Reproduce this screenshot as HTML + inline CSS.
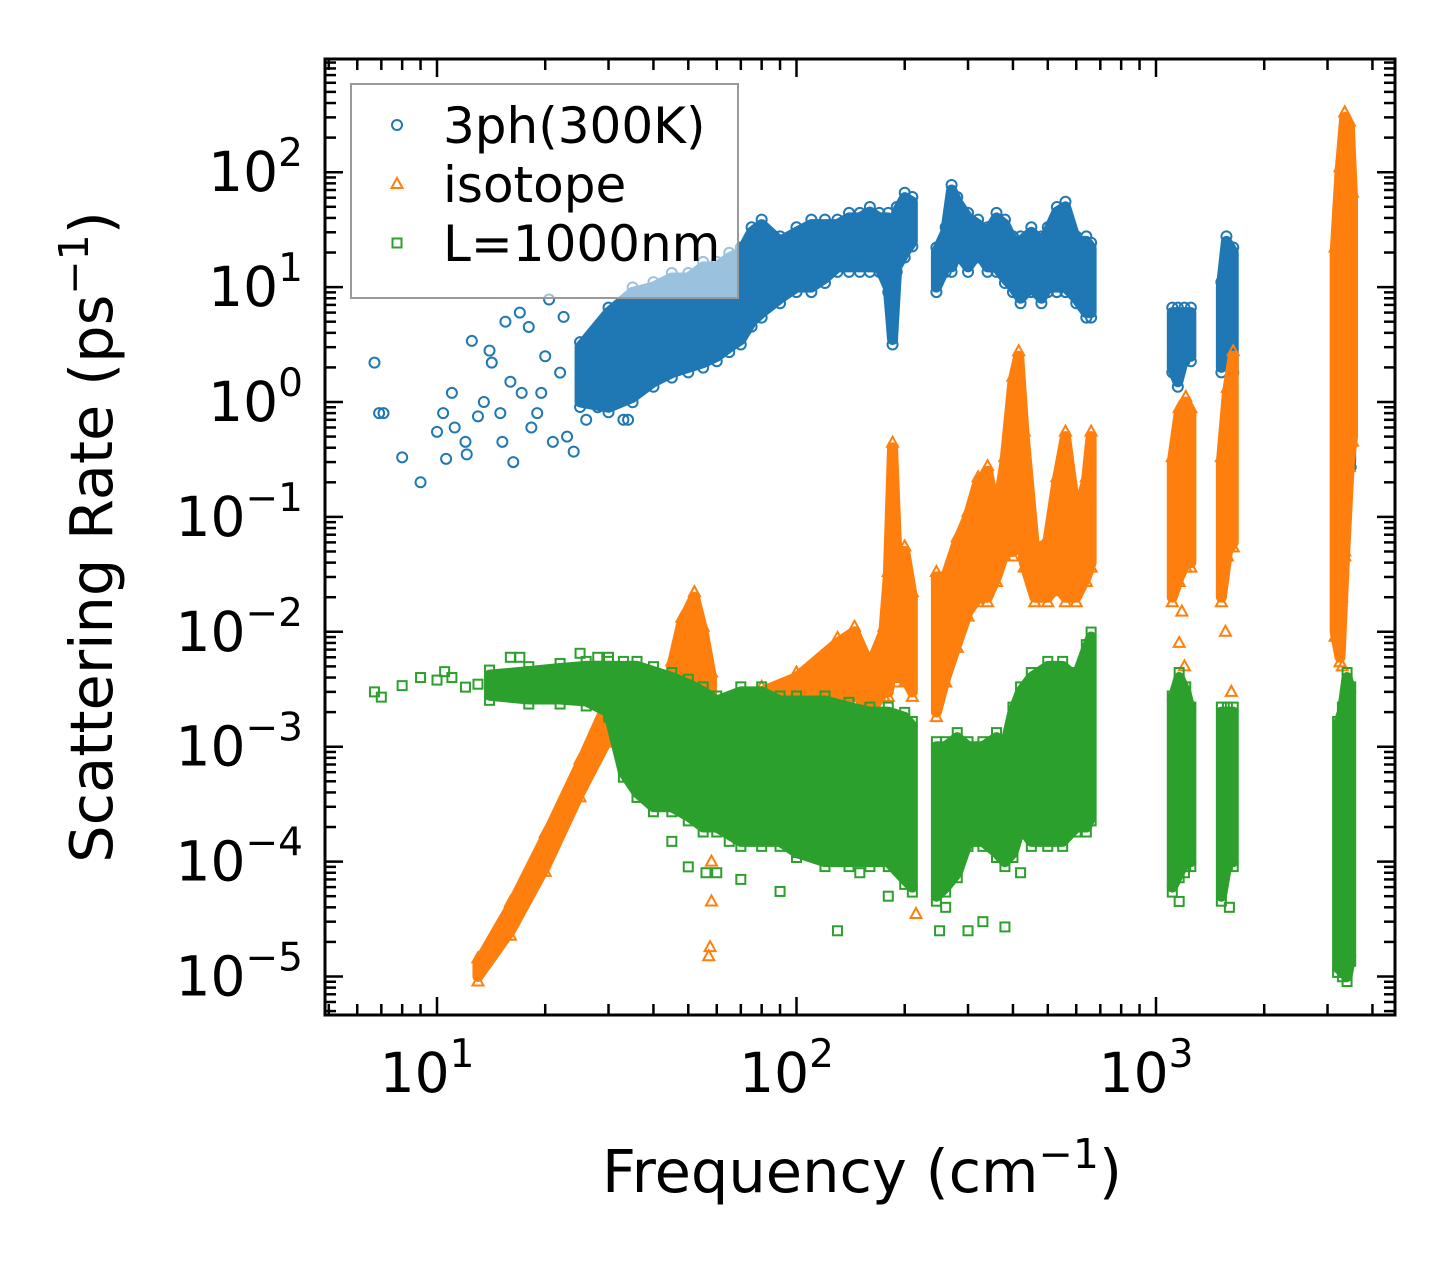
<!DOCTYPE html>
<html><head><meta charset="utf-8"><style>
html,body{margin:0;padding:0;background:#fff;}
svg{display:block;font-family:"DejaVu Sans","Liberation Sans",sans-serif;}
</style></head><body>
<svg id="chart" width="1455" height="1265" viewBox="0 0 1455 1265" xmlns="http://www.w3.org/2000/svg">
<rect width="1455" height="1265" fill="#fff"/>
<g id="marks"></g>
<g id="axes"></g>
</svg>
<script>
// ---- Data (frequency in cm^-1, rates in ps^-1) ----
const blueFreq = [25,30,35,40,45,50,55,60,65,70,75,80,90,100,110,120,130,140,150,160,170,180,185,190,200,210,null,245,260,270,280,300,320,340,360,380,400,420,450,480,500,530,560,600,640,660,null,1110,1150,1200,1250,null,1520,1570,1640,null,3200,3300,3400,3480];
const blueLo   = [1.0,0.9,1.1,1.5,1.8,2.0,2.2,2.5,3.0,3.5,5,6,8,10,10,12,15,15,15,15,15,10,3.5,15,20,25,null,10,15,15,20,15,20,15,15,12,10,8,10,8,10,10,10,8,6,6,null,2.0,1.5,2.5,2.5,null,2.0,2.5,2.0,null,0.6,0.5,0.4,0.3];
const blueHi   = [3,6,9,10,12,12,15,15,18,20,30,35,25,30,35,35,35,40,40,45,40,40,20,45,60,55,null,20,30,70,55,40,35,30,40,35,25,25,30,25,30,45,50,25,25,22,null,6,6,6,6,null,10,25,20,null,2,3,3,2];
const blueScatX = [6.7,6.9,7.1,8,9,10,10.4,10.6,11,11.2,12,12.1,12.5,13,13.5,14,14.2,15,15.2,15.5,16,16.3,17,17.2,18,18.3,19,20,20.5,21,22,23,24,22.5,19.5,26,28,33,34];
const blueScatY = [2.2,0.8,0.8,0.33,0.2,0.55,0.8,0.32,1.2,0.6,0.45,0.35,3.4,0.75,1.0,2.8,2.2,0.8,0.45,5,1.5,0.3,6,1.2,4.5,0.6,0.8,2.5,7.8,0.45,1.8,0.5,0.37,5.5,1.2,0.7,0.9,0.7,0.7];

const orangeFreq = [13,16,20,25,30,34,null,45,48,52,55,58,null,60,80,100,130,145,160,175,180,185,190,200,210,null,245,260,280,300,320,340,360,380,400,415,430,460,500,530,560,600,640,660,null,1110,1160,1210,1250,null,1520,1580,1640,null,3150,3250,3350,3450,3520];
const orangeLo   = [1e-5,2.5e-5,9e-5,4e-4,1.2e-3,2e-3,null,3e-3,4e-3,4e-3,3e-3,1e-3,null,1e-3,1e-3,1.5e-3,2e-3,3e-3,2e-3,3e-3,3e-3,5e-3,4e-3,4e-3,3e-3,null,2e-3,4e-3,8e-3,0.015,0.02,0.02,0.03,0.05,0.05,0.1,0.04,0.02,0.02,0.025,0.02,0.02,0.03,0.04,null,0.02,0.03,0.04,0.04,null,0.02,0.05,0.06,null,0.01,0.006,0.05,0.3,0.5];
const orangeHi   = [1.3e-5,4e-5,1.6e-4,7e-4,2.5e-3,3.5e-3,null,5e-3,1.2e-2,2e-2,1e-2,4e-3,null,2e-3,3e-3,4e-3,8e-3,1e-2,5e-3,1e-2,0.03,0.4,0.05,0.05,0.02,null,0.03,0.03,0.06,0.1,0.2,0.25,0.1,0.3,1.5,2.5,0.5,0.05,0.06,0.2,0.5,0.1,0.2,0.5,null,0.3,0.8,1.0,0.8,null,0.3,1.2,2.5,null,20,100,300,250,60];
const orangeScatX = [57,57.5,58,58,57,60,75,215,350,420,430,1160,1180,1200,1560,1620,3280,3300,3320,3350];
const orangeScatY = [1.5e-5,1.8e-5,4.5e-5,1e-4,2e-4,6e-4,3e-4,3.5e-5,8e-4,1.5e-3,2.5e-3,8e-3,1.5e-2,5e-3,1e-2,3e-3,2e-2,5e-3,0.2,0.05];

const greenFreq = [14,18,22,26,30,33,36,40,45,50,55,60,70,80,90,100,120,140,160,180,200,210,null,245,260,280,300,330,360,380,400,420,450,500,550,600,640,660,null,1110,1160,1210,1250,null,1520,1580,1640,null,3200,3300,3400,3480];
const greenLo  = [2.8e-3,2.6e-3,2.6e-3,2.5e-3,2e-3,6e-4,4e-4,3e-4,3e-4,2.5e-4,2e-4,2e-4,1.5e-4,1.5e-4,1.5e-4,1.2e-4,1e-4,1e-4,1e-4,1e-4,7e-5,6e-5,null,5e-5,6e-5,8e-5,1.5e-4,1.5e-4,1.2e-4,1e-4,1.2e-4,2e-4,1.5e-4,1.5e-4,1.5e-4,2e-4,2e-4,2.5e-4,null,6e-5,8e-5,1e-4,1e-4,null,5e-5,1e-4,1e-4,null,1.2e-5,1.1e-5,1e-5,1.5e-5];
const greenHi  = [4.2e-3,4.5e-3,4.8e-3,5e-3,5e-3,5e-3,5e-3,4.5e-3,4e-3,3.5e-3,3e-3,2.5e-3,3e-3,3e-3,2.5e-3,2.5e-3,2.5e-3,2.2e-3,2e-3,2e-3,1.8e-3,1.5e-3,null,1e-3,1e-3,1.2e-3,1e-3,1e-3,1.2e-3,1e-3,2e-3,3e-3,4e-3,5e-3,5e-3,4e-3,7e-3,9e-3,null,2.5e-3,4e-3,3e-3,2e-3,null,2e-3,2e-3,2e-3,null,1.5e-3,2e-3,4e-3,3e-3];
const greenScatX = [6.7,7,8,9,10,10.5,11,12,13,15,16,17,18,20,22,25,28,30,35,40,45,50,56,60,65,70,90,100,130,150,180,200,250,260,300,330,380,420,1160,1200,1600];
const greenScatY = [3e-3,2.7e-3,3.4e-3,4e-3,3.8e-3,4.5e-3,4e-3,3.3e-3,3.5e-3,4e-3,6e-3,6e-3,4.5e-3,3.5e-3,3e-3,6.5e-3,6e-3,6e-3,5e-3,3.2e-4,1.5e-4,9e-5,8e-5,8e-5,1.5e-4,7e-5,5.5e-5,1.2e-4,2.5e-5,8e-5,5e-5,1e-4,2.5e-5,4e-5,2.5e-5,3e-5,2.7e-5,8e-5,4.5e-5,8e-5,4e-5];

const xTickVals = [10,100,1000];
const xTickLabels = ["1","2","3"];
const yTickVals = [1e2,1e1,1e0,1e-1,1e-2,1e-3,1e-4,1e-5];
const yTickLabels = ["2","1","0","\u22121","\u22122","\u22123","\u22124","\u22125"];

// ---- Scales ----
const L=325,R=1395,T=59,B=1015;
const X10=437, XDEC=359.5, Y1=402, YDEC=114.9;
function xs(f){return X10+(Math.log10(f)-1)*XDEC;}
function ys(v){return Y1-Math.log10(v)*YDEC;}
const NS="http://www.w3.org/2000/svg";
function mk(tag,attrs,parent){const e=document.createElementNS(NS,tag);for(const k in attrs)e.setAttribute(k,attrs[k]);parent.appendChild(e);return e;}
const marks=document.getElementById('marks');
const axes=document.getElementById('axes');
const clip=mk('clipPath',{id:'pc'},document.getElementById('chart'));
mk('rect',{x:L,y:T,width:R-L,height:B-T},clip);
marks.setAttribute('clip-path','url(#pc)');

function marker(kind,x,y,color,g){
  let e;
  if(kind==='o'){e=mk('circle',{cx:x,cy:y,r:5,fill:'none',stroke:color,'stroke-width':2},g);}
  else if(kind==='^'){e=mk('polygon',{points:`${x},${y-6} ${x-5.5},${y+4} ${x+5.5},${y+4}`,fill:'none',stroke:color,'stroke-width':2},g);}
  else {e=mk('rect',{x:x-4.5,y:y-4.5,width:9,height:9,fill:'none',stroke:color,'stroke-width':2},g);}
  return e;
}
function drawSeries(name,kind,color,F,LO,HI,SX,SY){
  const g=mk('g',{},marks);
  
  
  let seg=[];
  const segs=[];
  for(let i=0;i<F.length;i++){
    if(F[i]===null){if(seg.length)segs.push(seg);seg=[];}
    else seg.push(i);
  }
  if(seg.length)segs.push(seg);
  segs.forEach((s)=>{
    const up=s.map(i=>`${xs(F[i])},${ys(HI[i])}`);
    const lo=s.slice().reverse().map(i=>`${xs(F[i])},${ys(LO[i])}`);
    const p=mk('polygon',{points:up.concat(lo).join(' '),fill:color,stroke:color,'stroke-width':11,'stroke-linejoin':'round'},g);
    
    
    s.forEach(i=>{
      const a=marker(kind,xs(F[i]),ys(HI[i])-5,color,g);
      
      
      const b=marker(kind,xs(F[i]),ys(LO[i])+5,color,g);
      
      
    });
  });
  for(let i=0;i<SX.length;i++){
    const m=marker(kind,xs(SX[i]),ys(SY[i]),color,g);
    
    
  }
}
drawSeries('3ph','o','#1f77b4',blueFreq,blueLo,blueHi,blueScatX,blueScatY);
drawSeries('isotope','^','#ff7f0e',orangeFreq,orangeLo,orangeHi,orangeScatX,orangeScatY);
drawSeries('boundary','s','#2ca02c',greenFreq,greenLo,greenHi,greenScatX,greenScatY);

// ---- Axes ----
const frame=mk('rect',{x:L,y:T,width:R-L,height:B-T,fill:'none',stroke:'#000','stroke-width':3},axes);


function tick(x1,y1,x2,y2){mk('line',{x1,y1,x2,y2,stroke:'#000','stroke-width':2.5},axes);}
for(let d=0;d<=3;d++){
  for(let m=1;m<=9;m++){
    const f=m*Math.pow(10,d);
    const x=xs(f);
    if(x<L+1||x>R-1)continue;
    const len=m===1?18:11;
    tick(x,B,x,B-len);tick(x,T,x,T+len);
  }
}
xTickVals.forEach((v,i)=>{
  const t=mk('text',{x:xs(v)-10,y:1092,'font-size':55,'text-anchor':'middle',fill:'#000'},axes);
  
  
  t.textContent='10';
  const s=mk('tspan',{dy:-25,'font-size':39},t);s.textContent=xTickLabels[i];
});
for(let d=-6;d<=2;d++){
  for(let m=1;m<=9;m++){
    const v=m*Math.pow(10,d);
    const y=ys(v);
    if(y<T+1||y>B-1)continue;
    const len=m===1?18:11;
    tick(L,y,L+len,y);tick(R,y,R-len,y);
  }
}
yTickVals.forEach((v,i)=>{
  const t=mk('text',{x:303,y:ys(v)+19,'font-size':55,'text-anchor':'end',fill:'#000'},axes);
  
  
  const b=mk('tspan',{},t);b.textContent='10';
  const s=mk('tspan',{dy:-25,'font-size':39},t);s.textContent=yTickLabels[i];
});
const xt=mk('text',{x:862,y:1192,'font-size':59,'text-anchor':'middle',fill:'#000'},axes);


xt.innerHTML='Frequency (cm<tspan dy="-24" font-size="41">\u22121</tspan><tspan dy="24">)</tspan>';
const yt=mk('text',{x:0,y:0,'font-size':59,'text-anchor':'middle',fill:'#000',transform:'translate(112,537) rotate(-90)'},axes);


yt.innerHTML='Scattering Rate (ps<tspan dy="-24" font-size="41">\u22121</tspan><tspan dy="24">)</tspan>';

// ---- Legend ----
const lg=mk('g',{},axes);


mk('rect',{x:351,y:84,width:387,height:214,fill:'#fff','fill-opacity':0.55,stroke:'#999','stroke-width':2},lg);
const legNames=['3ph(300K)','isotope','L=1000nm'];
const legKinds=['o','^','s'];
const legColors=['#1f77b4','#ff7f0e','#2ca02c'];
legNames.forEach((n,i)=>{
  const y=125+i*59;
  const m=marker(legKinds[i],397,y,legColors[i],lg);
  
  
  const t=mk('text',{x:443,y:y+18,'font-size':50,fill:'#000'},lg);
  
  
  t.textContent=n;
});
</script>
</body></html>
